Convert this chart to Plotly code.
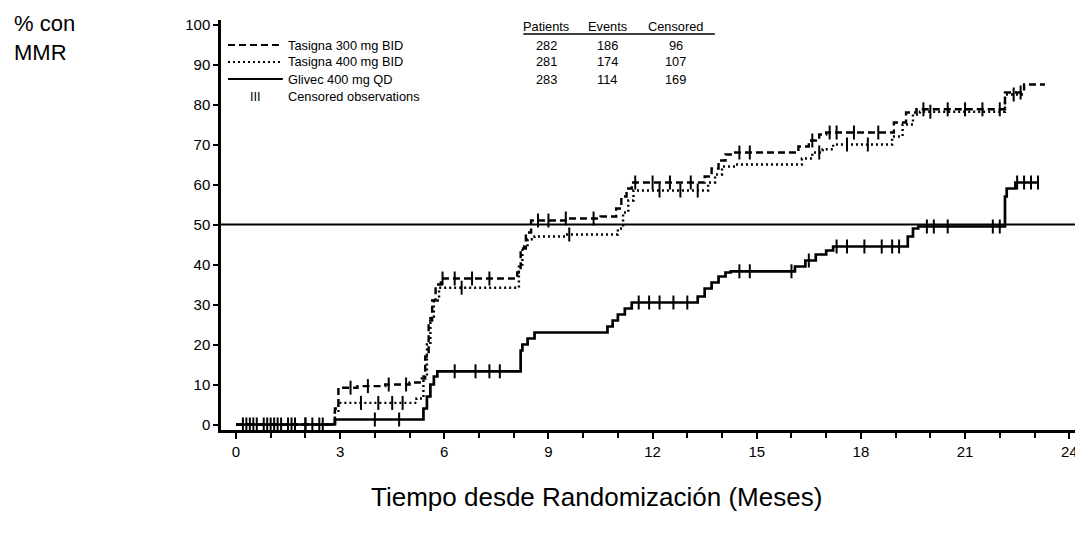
import numpy as np
import plotly.graph_objects as go

# ---------------- data ----------------
months_ticks = [0, 3, 6, 9, 12, 15, 18, 21, 24]
pct_ticks = [0, 10, 20, 30, 40, 50, 60, 70, 80, 90, 100]
mmr_threshold = 50

series_names = ["Tasigna 300 mg BID", "Tasigna 400 mg BID", "Glivec 400 mg QD"]
patients = [282, 281, 283]
events = [186, 174, 114]
censored = [96, 107, 169]

# Tasigna 300 mg BID (cumulative % with MMR, step function)
t300_t = [0, 2.85, 2.95, 3.5, 4.3, 5.0, 5.35, 5.45, 5.55, 5.65, 5.75, 5.9,
          8.1, 8.2, 8.35, 8.5, 9.5, 10.5, 10.95, 11.1, 11.25, 11.4,
          13.5, 13.7, 13.9, 14.1, 14.3, 16.2, 16.5, 16.8, 17.0,
          18.95, 19.3, 19.6, 22.15, 22.7, 23.3]
t300_y = [0, 4, 9.2, 9.6, 10, 10.5, 11.5, 17, 26, 31, 35, 36.5,
          38, 44, 48, 51, 51.5, 52, 54, 57, 59, 60.5,
          62, 64, 66, 67.5, 68, 69.5, 71, 72.5, 73,
          75.5, 78, 78.8, 83, 85, 85]
t300_cens = [0.3, 0.6, 1.0, 1.3, 1.6, 2.0, 2.4, 3.3, 3.8, 4.4, 4.9, 5.95, 6.3, 6.8,
             7.3, 8.7, 9.0, 9.5, 10.3, 11.5, 12.0, 12.5, 13.1, 14.5, 14.8, 16.6,
             17.1, 17.3, 17.8, 18.5, 19.8, 20.5, 21.0, 21.5, 22.0, 22.6]

# Tasigna 400 mg BID
t400_t = [0, 2.85, 2.95, 5.2, 5.4, 5.5, 5.6, 5.7, 5.85,
          8.15, 8.25, 8.4, 8.6, 9.5, 11.0, 11.15, 11.3, 11.45,
          13.6, 13.8, 14.0, 14.4, 16.3, 16.6, 16.9, 17.2,
          18.9, 19.2, 19.5, 19.7, 22.15, 22.7]
t400_y = [0, 3, 5.4, 6.5, 12, 20, 27, 31, 34.2,
          40, 44.5, 46.3, 47, 47.5, 49, 53, 56, 58.5,
          60.5, 62.5, 64.5, 65, 66.5, 68, 68.8, 70,
          72, 75, 77.5, 78.2, 82.5, 82.5]
t400_cens = [0.4, 0.8, 1.2, 1.7, 2.2, 3.6, 4.1, 4.5, 4.8, 6.5, 9.6, 12.2, 12.8,
             13.3, 16.8, 17.6, 18.2, 20.0, 22.4]

# Glivec 400 mg QD
gl_t = [0, 2.85, 5.4, 5.5, 5.6, 5.7, 5.8, 8.2, 8.25, 8.4, 8.6,
        10.7, 10.85, 11.0, 11.2, 11.4, 13.3, 13.5, 13.7, 13.9, 14.1, 14.25,
        16.1, 16.4, 16.7, 17.0, 17.2, 19.35, 19.5, 19.65, 22.15, 22.2, 22.45, 23.1]
gl_y = [0, 1.25, 4, 7, 10, 12, 13.3, 18.5, 20, 21.5, 23,
        24.5, 26, 27.5, 29, 30.5, 32, 34, 35.5, 37, 38, 38.3,
        39.5, 41, 42.5, 43.5, 44.5, 47, 49, 49.5, 57, 59, 60.5, 60.5]
gl_cens = [0.2, 0.5, 0.9, 1.1, 1.5, 2.0, 2.5, 4.0, 4.7, 6.3, 6.9, 7.3, 7.6, 11.6,
           11.9, 12.2, 12.6, 13.0, 14.5, 14.8, 16.0, 16.5, 17.3, 17.6, 18.1, 18.6,
           18.9, 19.1, 19.9, 20.1, 20.5, 21.8, 22.0, 22.5, 22.7, 22.9, 23.1]

# ---------------- figure ----------------
OFF = 8                                   # default page body margin of the html
W, H = 1083 - OFF, 545 - OFF
# plot area, in reference-picture pixels
RL, RR, RT, RB = 221, 1078, 20, 430
PL, PR, PT, PB = RL - OFF, RR - OFF, RT - OFF, RB - OFF
FONT = "Liberation Sans, Arial, sans-serif"


def pxx(x):          # reference-picture x pixel -> paper
    return (x - RL) / (RR - RL)


def pxy(y):          # reference-picture y pixel -> paper
    return (RB - y) / (RB - RT)


def step_value(ts, ys, c):
    i = np.searchsorted(np.asarray(ts), c, side="right") - 1
    return float(np.asarray(ys)[max(i, 0)])


fig = go.Figure()

curves = [
    (t300_t, t300_y, t300_cens, "7px,4px", 2.4),
    (t400_t, t400_y, t400_cens, "2px,3px", 2.4),
    (gl_t, gl_y, gl_cens, "solid", 2.7),
]

for (ts, ys, cs, dash, lw), name in zip(curves, series_names):
    fig.add_trace(go.Scatter(
        x=ts, y=ys, mode="lines", name=name,
        line=dict(color="black", width=lw, dash=dash, shape="hv"),
        showlegend=False, hoverinfo="skip"))
    fig.add_trace(go.Scatter(
        x=cs, y=[step_value(ts, ys, c) for c in cs], mode="markers",
        name=name + " censored",
        marker=dict(symbol="line-ns-open", size=10, color="black",
                    line=dict(color="black", width=2)),
        showlegend=False, hoverinfo="skip"))

shapes = []
# 50 % reference line
shapes.append(dict(type="line", xref="paper", yref="y", x0=0, x1=pxx(1083),
                   y0=mmr_threshold, y1=mmr_threshold,
                   line=dict(color="black", width=2)))

# custom legend table
row_y = [45, 62, 79]
sample_dash = ["7px,4px", "2px,3px", "solid"]
for ry, d in zip(row_y, sample_dash):
    shapes.append(dict(type="line", xref="paper", yref="paper",
                       x0=pxx(228), x1=pxx(283), y0=pxy(ry), y1=pxy(ry),
                       line=dict(color="black", width=2, dash=d)))
# header underline
shapes.append(dict(type="line", xref="paper", yref="paper",
                   x0=pxx(524), x1=pxx(716), y0=pxy(34), y1=pxy(34),
                   line=dict(color="black", width=1.3)))

ann = []
LF = dict(family=FONT, size=12.8, color="black")
for ry, name, p, e, c in zip(row_y, series_names, patients, events, censored):
    ann.append(dict(x=pxx(286), y=pxy(ry), xref="paper", yref="paper", text=name,
                    showarrow=False, xanchor="left", yanchor="middle", font=LF))
    for cx, val in zip([547, 608, 677], [p, e, c]):
        ann.append(dict(x=pxx(cx), y=pxy(ry), xref="paper", yref="paper", text=str(val),
                        showarrow=False, xanchor="center", yanchor="middle", font=LF))
for cx, txt in zip([547, 608, 677], ["Patients", "Events", "Censored"]):
    ann.append(dict(x=pxx(cx), y=pxy(26), xref="paper", yref="paper", text=txt,
                    showarrow=False, xanchor="center", yanchor="middle", font=LF))
ann.append(dict(x=pxx(256), y=pxy(96), xref="paper", yref="paper", text="III",
                showarrow=False, xanchor="center", yanchor="middle", font=LF))
ann.append(dict(x=pxx(286), y=pxy(96), xref="paper", yref="paper",
                text="Censored observations",
                showarrow=False, xanchor="left", yanchor="middle", font=LF))

# y axis title (top-left) and x axis title
ann.append(dict(x=pxx(12), y=pxy(9), xref="paper", yref="paper", text="% con<br>MMR",
                showarrow=False, xanchor="left", yanchor="top", align="left",
                font=dict(family=FONT, size=22, color="black")))
ann.append(dict(x=pxx(597), y=pxy(497), xref="paper", yref="paper",
                text="Tiempo desde Randomización (Meses)",
                showarrow=False, xanchor="center", yanchor="middle",
                font=dict(family=FONT, size=26, color="black")))

x0 = (RL - 236) / 34.8
x1 = (RR - 236) / 34.8
y0 = (424.5 - RB) / 4.0
y1 = (424.5 - RT) / 4.0

fig.update_layout(
    width=W, height=H, autosize=False,
    margin=dict(l=PL, r=W - PR, t=PT, b=H - PB, pad=0),
    paper_bgcolor="white", plot_bgcolor="white",
    font=dict(family=FONT, color="black"),
    showlegend=False,
    shapes=shapes, annotations=ann,
    xaxis=dict(range=[x0, x1], tickvals=months_ticks, ticktext=[str(v) for v in months_ticks],
               ticks="outside", ticklen=6, tickwidth=2, tickcolor="black",
               showline=True, linewidth=2.5, linecolor="black",
               showgrid=False, zeroline=False,
               tickfont=dict(family=FONT, size=15, color="black"),
               minor=dict(tick0=0, dtick=1, ticks="outside", ticklen=5, tickwidth=1.5,
                          tickcolor="black", showgrid=False)),
    yaxis=dict(range=[y0, y1], tickvals=pct_ticks, ticktext=[str(v) for v in pct_ticks],
               ticks="outside", ticklen=5, tickwidth=2, tickcolor="black",
               showline=True, linewidth=2.5, linecolor="black",
               showgrid=False, zeroline=False,
               tickfont=dict(family=FONT, size=15, color="black")),
)

fig.write_html("out.html")
